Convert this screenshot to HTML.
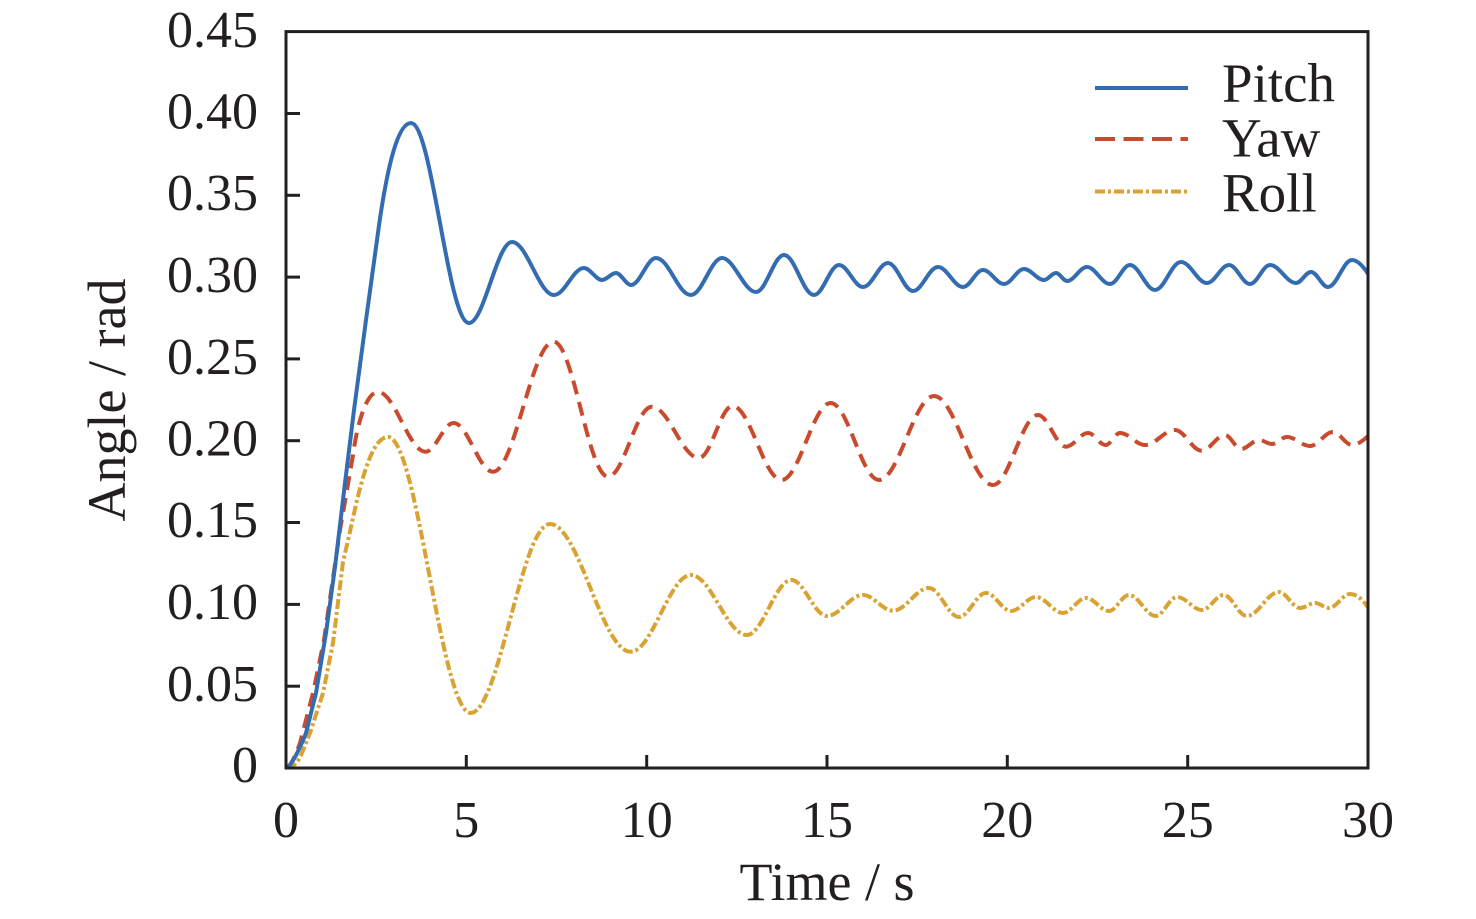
<!DOCTYPE html>
<html>
<head>
<meta charset="utf-8">
<style>
  html, body { margin:0; padding:0; background:#ffffff; }
  body { width:1476px; height:919px; overflow:hidden; }
  svg { display:block; }
  text { font-family: "Liberation Serif", "Times New Roman", serif; fill:#231f20; }
</style>
</head>
<body>
<svg width="1476" height="919" viewBox="0 0 1476 919" xmlns="http://www.w3.org/2000/svg">
  <defs>
    <clipPath id="plot">
      <rect x="286" y="31.6" width="1082" height="736.4"/>
    </clipPath>
  </defs>
  <rect width="1476" height="919" fill="#ffffff"/>

  <!-- series -->
  <g clip-path="url(#plot)" fill="none" stroke-linejoin="round">
    <!-- Roll -->
    <path stroke="#d9a232" stroke-width="4" stroke-dasharray="10 3 3 3" d="
      M287,768 C294,767 298,762 302,753 L310,733 L323,693 L333,643 L343,562 L349,536 L357,500
      C363,476 373,437 388,437
      C417.8,437 440.9,713 470.7,713
      C499.2,713 521.5,524 550,524
      C579,524 601.7,651.7 630.7,651.7
      C652.4,651.7 669.3,575 691,575
      C711,575 726.8,635 746.8,635
      C762.8,635 775.4,580 791.4,580
      C804.2,580 814.2,616 827,616
      C840,616 850,595 863,595
      C873.8,595 882.2,610.7 893,610.7
      C906,610.7 916,588 929,588
      C939.8,588 948.2,617 959,617
      C968.7,617 976.3,593 986,593
      C995,593 1002,611 1011,611
      C1020,611 1027,597 1036,597
      C1045.7,597 1053.3,613 1063,613
      C1071.3,613 1077.7,598 1086,598
      C1094.3,598 1100.7,611 1109,611
      C1116.2,611 1121.8,595 1129,595
      C1138.6,595 1146.1,616 1155.7,616
      C1163.4,616 1169.3,597 1177,597
      C1186,597 1193,610 1202,610
      C1209.8,610 1215.8,595 1223.6,595
      C1232,595 1238.4,616 1246.8,616
      C1258.4,616 1267.4,592 1279,592
      C1286.6,592 1292.4,608 1300,608
      C1305.4,608 1309.6,603 1315,603
      C1320,603 1324,608 1329,608
      C1336.6,608 1342.4,594 1350,594
      C1357,594 1363,600 1370,610"/>
    <!-- Yaw -->
    <path stroke="#c94a2c" stroke-width="4" stroke-dasharray="14 8" d="
      M287,768 C292,764 296,754 300,743 L313,693 L324,640 L332,585 L340,530 L347,490 L353,455
      C357,425 366,392 378,392
      C395,392 408.6,451.7 425.6,451.7
      C435.6,451.7 443.6,423 453.6,423
      C467.8,423 478.8,471.7 493,471.7
      C514.8,471.7 531.8,341.7 553.6,341.7
      C573.2,341.7 588.4,476.7 608,476.7
      C623.8,476.7 636,406.7 651.8,406.7
      C668.8,406.7 682,458 699,458
      C711,458 720.5,406 732.5,406
      C750.1,406 764,480 781.6,480
      C799.2,480 813.1,403 830.7,403
      C848.1,403 861.6,480 879,480
      C898.8,480 914.2,396 934,396
      C955.2,396 971.8,485 993,485
      C1009.2,485 1021.8,415 1038,415
      C1048,415 1056,446.7 1066,446.7
      C1074,446.7 1080,433 1088,433
      C1094.4,433 1099.3,445 1105.7,445
      C1110.8,445 1114.9,433 1120,433
      C1129,433 1136,445 1145,445
      C1156,445 1164,430 1175,430
      C1184.6,430 1192.1,450.7 1201.7,450.7
      C1210.1,450.7 1216.6,435 1225,435
      C1230.8,435 1235.2,449 1241,449
      C1247.5,449 1252.5,440 1259,440
      C1263.7,440 1267.3,444 1272,444
      C1277.4,444 1281.6,437 1287,437
      C1295.3,437 1301.7,446 1310,446
      C1318.3,446 1324.7,432 1333,432
      C1339.8,432 1345.2,445 1352,445
      C1358,445 1364,440 1370,434"/>
    <!-- Pitch -->
    <path stroke="#336cb1" stroke-width="4" d="
      M287,768 C293,763 300,748 306,733 L316,693 L326,633 L335,567 L345,483 L354,410 L366,320 L377,240
      C386,172 397,123 411,123
      C432,123 448,323 469,323
      C484,323 497,242 512,242
      C527,242 539,295 554,295
      C565,295 573,268 584,268
      C590,268 596,280 602,280
      C607,280 611,273 616,273
      C621,273 626,285 631,285
      C640,285 647,258 656,258
      C669,258 678,295 691,295
      C702,295 711,258 722,258
      C734,258 744,292 756,292
      C766,292 774,255 784,255
      C795,255 803,295 814,295
      C823,295 830,265 839,265
      C847.6,265 854.4,287 863,287
      C872,287 879,263 888,263
      C897,263 904,291 913,291
      C922,291 929,267 938,267
      C947,267 954,287 963,287
      C970.2,287 975.8,270 983,270
      C990.6,270 996.4,284 1004,284
      C1011.2,284 1016.8,269 1024,269
      C1031.2,269 1036.8,280 1044,280
      C1048.3,280 1051.7,273 1056,273
      C1060,273 1063,281 1067,281
      C1074.2,281 1079.8,267 1087,267
      C1095.3,267 1101.7,284 1110,284
      C1117.2,284 1122.8,265 1130,265
      C1139,265 1146,290 1155,290
      C1164.4,290 1171.6,262 1181,262
      C1190.4,262 1197.6,283 1207,283
      C1214.9,283 1221.1,265 1229,265
      C1236.6,265 1242.4,284 1250,284
      C1257.2,284 1262.8,265 1270,265
      C1279.4,265 1286.6,283 1296,283
      C1301.4,283 1305.6,272 1311,272
      C1317.1,272 1321.9,287 1328,287
      C1336.6,287 1343.4,260 1352,260
      C1358,260 1364,267 1370,277"/>
  </g>

  <!-- axes frame -->
  <rect x="286" y="31.6" width="1082" height="736.4" fill="none" stroke="#231f20" stroke-width="3"/>

  <!-- y ticks -->
  <g stroke="#231f20" stroke-width="3">
    <line x1="286" y1="686.2" x2="300" y2="686.2"/>
    <line x1="286" y1="604.4" x2="300" y2="604.4"/>
    <line x1="286" y1="522.5" x2="300" y2="522.5"/>
    <line x1="286" y1="440.7" x2="300" y2="440.7"/>
    <line x1="286" y1="358.9" x2="300" y2="358.9"/>
    <line x1="286" y1="277.1" x2="300" y2="277.1"/>
    <line x1="286" y1="195.3" x2="300" y2="195.3"/>
    <line x1="286" y1="113.5" x2="300" y2="113.5"/>
    <!-- x ticks -->
    <line x1="466.3" y1="768" x2="466.3" y2="755"/>
    <line x1="646.7" y1="768" x2="646.7" y2="755"/>
    <line x1="827" y1="768" x2="827" y2="755"/>
    <line x1="1007.3" y1="768" x2="1007.3" y2="755"/>
    <line x1="1187.7" y1="768" x2="1187.7" y2="755"/>
  </g>

  <!-- y tick labels -->
  <g font-size="52" text-anchor="end">
    <text x="258" y="782">0</text>
    <text x="258" y="701">0.05</text>
    <text x="258" y="619">0.10</text>
    <text x="258" y="537">0.15</text>
    <text x="258" y="455.5">0.20</text>
    <text x="258" y="374">0.25</text>
    <text x="258" y="292">0.30</text>
    <text x="258" y="210">0.35</text>
    <text x="258" y="128.5">0.40</text>
    <text x="258" y="47">0.45</text>
  </g>

  <!-- x tick labels -->
  <g font-size="52" text-anchor="middle">
    <text x="286" y="837">0</text>
    <text x="466.3" y="837">5</text>
    <text x="646.7" y="837">10</text>
    <text x="827" y="837">15</text>
    <text x="1007.3" y="837">20</text>
    <text x="1187.7" y="837">25</text>
    <text x="1368" y="837">30</text>
  </g>

  <!-- axis titles -->
  <text x="827" y="900" font-size="54" text-anchor="middle">Time / s</text>
  <text transform="translate(125,400) rotate(-90)" font-size="54" text-anchor="middle">Angle / rad</text>

  <!-- legend -->
  <g fill="none" stroke-width="4">
    <line x1="1095" y1="88" x2="1188" y2="88" stroke="#336cb1"/>
    <line x1="1095" y1="139" x2="1188" y2="139" stroke="#c94a2c" stroke-dasharray="20 8.5"/>
    <line x1="1095" y1="191.5" x2="1188" y2="191.5" stroke="#d9a232" stroke-dasharray="10 3 3 3"/>
  </g>
  <g font-size="55">
    <text x="1222" y="101.5">Pitch</text>
    <text x="1222" y="156.5">Yaw</text>
    <text x="1222" y="211.5">Roll</text>
  </g>
</svg>
</body>
</html>
